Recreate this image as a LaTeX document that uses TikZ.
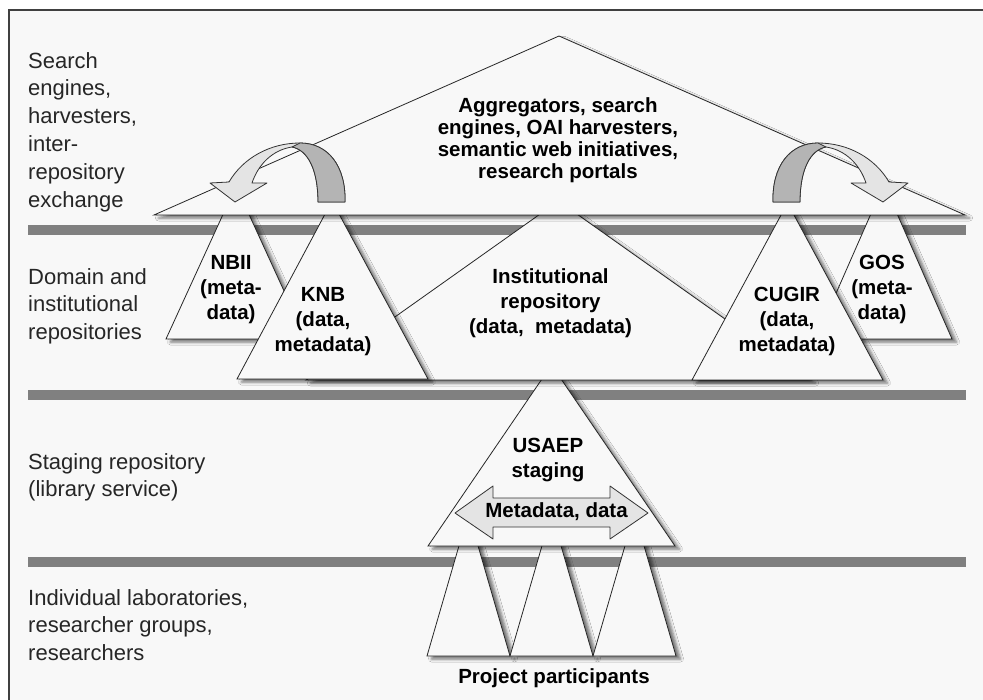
\documentclass[tikz,border=0pt]{standalone}
\usepackage{fontspec}
\setmainfont{Liberation Sans}
\usetikzlibrary{shadows.blur}

\definecolor{paper}{HTML}{F8F8F8}
\definecolor{bargray}{HTML}{808080}
\definecolor{lightfold}{HTML}{E4E4E4}
\definecolor{darkfold}{HTML}{B4B4B4}

\tikzset{
  tri/.style={draw=black!85, fill=paper, line width=0.8pt,
    blur shadow={shadow xshift=4.5pt, shadow yshift=-3pt, shadow blur radius=3pt, shadow opacity=55}},
  fold/.style={draw=black!80, line width=0.8pt, line join=round},
  lbl/.style={font=\fontsize{22}{27.8}\selectfont, text=black!85, align=left, anchor=north west, inner sep=0pt},
  tag/.style={font=\bfseries\fontsize{20.5}{25}\selectfont, align=center, anchor=north, inner sep=0pt}
}

\begin{document}
\begin{tikzpicture}[x=1pt,y=-1pt]
  \useasboundingbox (0,0) rectangle (983,700);
  \fill[white] (0,0) rectangle (983,700);
  \fill[paper] (9,10) rectangle (983,700);
  \draw[line width=1.8pt, black!75] (9,700) -- (9,10) -- (983,10);

  % layer bars
  \foreach \y in {225,390,557}
    \fill[bargray] (28,\y) rectangle (966,\y+10);

  % project participants
  \foreach \i in {0,1,2}
    \draw[tri] (427+83*\i,656) -- (468.5+83*\i,513) -- (510+83*\i,656) -- cycle;

  % staging repository
  \draw[tri] (428,546) -- (551.5,365) -- (675,546) -- cycle;
  \draw[fold, fill=lightfold] (455,513) -- (493,486) -- (493,498) -- (610,498) -- (610,486)
    -- (648,513) -- (610,539) -- (610,527) -- (493,527) -- (493,539) -- cycle;

  % domain and institutional repositories
  \draw[tri] (306,380) -- (558.5,201) -- (811,380) -- cycle;
  \draw[tri] (166,339) -- (236,186) -- (306,339) -- cycle;
  \draw[tri] (816,339) -- (884,184) -- (952,339) -- cycle;
  \draw[tri] (237,379) -- (332,201) -- (428,379) -- cycle;
  \draw[tri] (692,380) -- (787.5,203) -- (883,380) -- cycle;

  % aggregators
  \draw[tri] (154,215) -- (559,36) -- (965,215) -- cycle;

  % exchange arrows, the right one mirrored
  \foreach \s in {1,-1} {
    \begin{scope}[shift={(559-559*\s,0)}, xscale=\s]
      \draw[fold, fill=lightfold] (345,202) .. controls (346,166) and (328,143) .. (300,143)
        .. controls (270,143) and (243,158) .. (229,182)
        -- (210,183) -- (235,202) -- (267,183) -- (252,183)
        .. controls (258,165) and (272,150) .. (292,147)
        .. controls (308,150) and (318,170) .. (318,202) -- cycle;
      \draw[fold, fill=darkfold] (345,202) .. controls (346,166) and (328,143) .. (300,143)
        -- (292,147) .. controls (308,150) and (318,170) .. (318,202) -- cycle;
    \end{scope}
  }

  % layer labels
  \node[lbl] (search) at (28,52) {Search\\engines,\\harvesters,\\inter-\\repository\\exchange};
  \node[lbl] (domain) at (28,268) {Domain and\\institutional\\repositories};
  \node[lbl] (staging) at (28,453) {Staging repository\\(library service)};
  \node[lbl] (labs) at (28,589) {Individual laboratories,\\researcher groups,\\researchers};

  % repository labels
  \node[tag, font=\bfseries\fontsize{20.5}{22}\selectfont] (aggr) at (558,97)
    {Aggregators, search\\engines, OAI harvesters,\\semantic web initiatives,\\research portals};
  \node[tag] (inst) at (550.5,268) {Institutional\\repository\\(data,~ metadata)};
  \node[tag] (nbii) at (231,255) {NBII\\(meta-\\data)};
  \node[tag] (knb) at (323,287) {KNB\\(data,\\metadata)};
  \node[tag] (cugir) at (787,287) {CUGIR\\(data,\\metadata)};
  \node[tag] (gos) at (882,255) {GOS\\(meta-\\data)};
  \node[tag] (usaep) at (548,438) {USAEP\\staging};
  \node[tag, anchor=base] (flow) at (556.5,518) {Metadata, data};
  \node[tag, anchor=base] (people) at (554,683) {Project participants};
\end{tikzpicture}
\end{document}
